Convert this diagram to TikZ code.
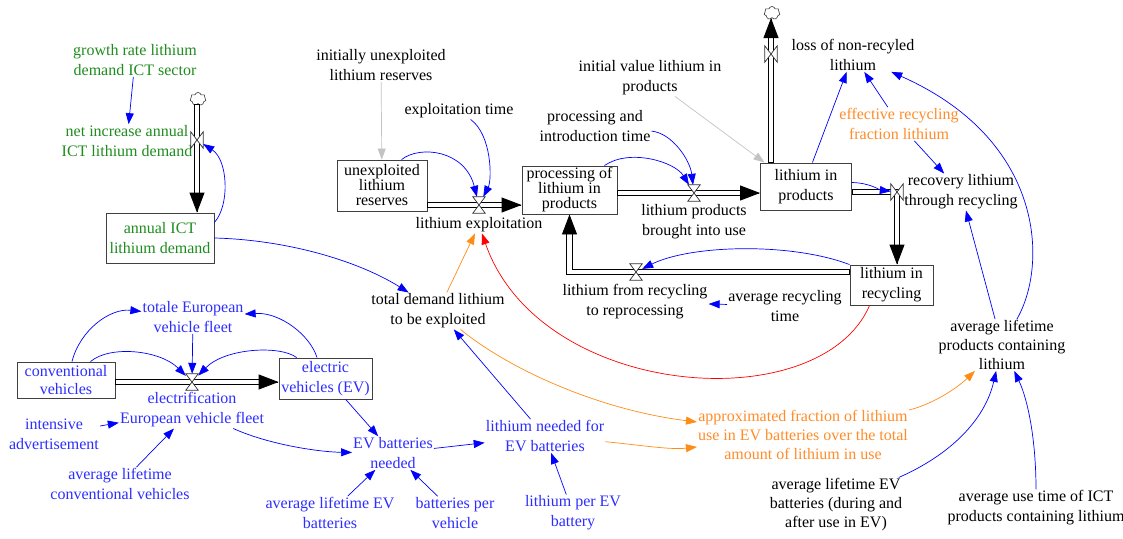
\documentclass[tikz,border=0pt]{standalone}
\usepackage{fontspec}
\setmainfont{Liberation Serif}
\usetikzlibrary{arrows.meta,shapes.symbols,calc}
\definecolor{lnkblue}{RGB}{0,0,255}
\definecolor{txtblue}{RGB}{45,45,255}
\definecolor{txtgreen}{RGB}{30,140,30}
\definecolor{lnkorange}{RGB}{255,140,20}
\definecolor{txtorange}{RGB}{255,140,40}
\definecolor{lnkgray}{RGB}{195,195,195}
\definecolor{lnkred}{RGB}{255,0,0}

\begin{document}
\begin{tikzpicture}[x=1pt,y=-1pt,
  lbl/.style={align=center, font=\fontsize{16}{20}\selectfont, inner sep=1pt},
  lblthree/.style={lbl, font=\fontsize{16}{19}\selectfont},
  stock/.style={draw=black!75, line width=0.9pt, align=center, inner sep=0pt, font=\fontsize{16}{20}\selectfont},
  stocktight/.style={stock, font=\fontsize{16}{15}\selectfont},
  valvebox/.style={minimum width=12pt, minimum height=16pt, inner sep=0pt},
  valveline/.style={draw=black!80, line width=0.7pt, fill=white},
  sink/.style={cloud, cloud puffs=7, draw=black!80, line width=0.6pt, minimum width=16pt, minimum height=13pt, inner sep=0pt, aspect=1.2},
  pipebody/.style={draw=black, line width=0.9pt, fill=white, line join=miter},
  pipehead/.style={draw=black, line width=0.9pt, -{Triangle[length=20pt,width=15pt]}},
  link/.style={draw=lnkblue, line width=0.7pt, -{Triangle[length=11pt,width=8pt]}},
  linkgray/.style={link, draw=lnkgray},
  linkorange/.style={link, draw=lnkorange},
  linkred/.style={link, draw=lnkred},
]
\useasboundingbox (0,0) rectangle (1123,538);

% ---------- stocks ----------
\node[stock, minimum width=108pt, minimum height=50pt, text=txtgreen] (ict) at (160,238) {annual ICT\\lithium demand};
\node[stocktight, minimum width=90pt, minimum height=51pt] (unexp) at (382,185.5) {unexploited\\lithium\\reserves};
\node[stocktight, minimum width=95pt, minimum height=48pt] (proc) at (569.5,190) {processing of\\lithium in\\products};
\node[stock, minimum width=91pt, minimum height=47pt] (lip) at (806,186.5) {lithium in\\products};
\node[stock, minimum width=83pt, minimum height=40pt] (lir) at (891.5,285) {lithium in\\recycling};
\node[stock, minimum width=98pt, minimum height=36pt, text=txtblue, font=\fontsize{16}{18}\selectfont] (conv) at (66,380) {conventional\\vehicles};
\node[stock, minimum width=93pt, minimum height=41pt, text=txtblue] (ev) at (325.5,378.5) {electric\\vehicles (EV)};

% ---------- auxiliaries ----------
\node[lbl, text=txtgreen] (growth) at (135,60) {growth rate lithium\\demand ICT sector};
\node[lbl, text=txtgreen] (netinc) at (127,141) {net increase annual\\ICT lithium demand};
\node[lbl] (initunexp) at (381,65) {initially unexploited\\lithium reserves};
\node[lbl] (exptime) at (459,111) {exploitation time};
\node[lbl] (lexp) at (479,225) {lithium exploitation};
\node[lbl] (procintro) at (595,126) {processing and\\introduction time};
\node[lbl] (initval) at (650,78) {initial value lithium in\\products};
\node[lbl] (lpbiu) at (694,222) {lithium products\\brought into use};
\node[lbl] (loss) at (853,55) {loss of non-recyled\\lithium};
\node[lbl, text=txtorange] (erf) at (899,124) {effective recycling\\fraction lithium};
\node[lbl] (rec) at (961,192) {recovery lithium\\through recycling};
\node[lbl] (lfr) at (635,302) {lithium from recycling\\to reprocessing};
\node[lbl] (art) at (785,306) {average recycling\\time};
\node[lbl] (totdem) at (438,311) {total demand lithium\\to be exploited};
\node[lbl, text=txtblue] (totEU) at (193,317) {totale European\\vehicle fleet};
\node[lbl, text=txtblue] (elec) at (192,410) {electrification\\European vehicle fleet};
\node[lbl, text=txtblue] (intadv) at (54,434) {intensive\\advertisement};
\node[lbl, text=txtblue] (alcv) at (120,484) {average lifetime\\conventional vehicles};
\node[lbl, text=txtblue] (evbn) at (393,453) {EV batteries\\needed};
\node[lbl, text=txtblue] (alevb) at (330,513) {average lifetime EV\\batteries};
\node[lbl, text=txtblue] (bpv) at (455,513) {batteries per\\vehicle};
\node[lbl, text=txtblue] (lnev) at (545,436) {lithium needed for\\EV batteries};
\node[lbl, text=txtblue] (lpev) at (573,513) {lithium per EV\\battery};
\node[lblthree, text=txtorange] (approx) at (803,435) {approximated fraction of lithium\\use in EV batteries over the total\\amount of lithium in use};
\node[lblthree] (alp) at (1002,345) {average lifetime\\products containing\\lithium};
\node[lblthree] (alevb2) at (836,505) {average lifetime EV\\batteries (during and\\after use in EV)};
\node[lbl] (aut) at (1036,508) {average use time of ICT\\products containing lithium};

% ---------- valves and clouds ----------
\node[valvebox] (v1) at (197,140) {};
\node[valvebox] (v2) at (479,205) {};
\node[valvebox] (v3) at (694,193) {};
\node[valvebox] (v4) at (771,54) {};
\node[valvebox] (v5) at (897,192) {};
\node[valvebox] (v6) at (636,272) {};
\node[valvebox] (v7) at (192,382) {};
\node[sink] (src1) at (198,99) {};
\node[sink] (snk4) at (772,13) {};

% ---------- flow ends ----------
\coordinate (f1e) at (v1 |- ict.north);
\coordinate (f2e) at (proc.west |- v2);
\coordinate (f3e) at (lip.west |- v3);
\coordinate (f4e) at (v4 |- snk4.south);
\coordinate (f5e) at (v5 |- lir.north);
\coordinate (f6e) at (proc.south);
\coordinate (f7e) at (ev.west |- v7);
\coordinate (f6k) at (proc.south |- v6);
\coordinate (f6l) at (lir.west |- v6);
\coordinate (f5p) at (lip.east |- v5);
% pipe bodies stop under the heads
\coordinate (f1s) at ($(f1e)!10pt!(v1)$);
\coordinate (f2s) at ($(f2e)!10pt!(v2)$);
\coordinate (f3s) at ($(f3e)!10pt!(v3)$);
\coordinate (f4s) at ($(f4e)!10pt!(v4)$);
\coordinate (f5s) at ($(f5e)!10pt!(v5)$);
\coordinate (f6s) at ($(f6e)!10pt!(f6k)$);
\coordinate (f7s) at ($(f7e)!10pt!(v7)$);

% ---------- pipes (hollow double lines) ----------
\draw[pipebody] ($(v1 |- src1.south)+(-2.6,0)$) rectangle ($(f1s)+(2.6,0)$);
\draw[pipebody] ($(unexp.east |- v2)+(0,-2.6)$) rectangle ($(f2s)+(0,2.6)$);
\draw[pipebody] ($(proc.east |- v3)+(0,-2.6)$) rectangle ($(f3s)+(0,2.6)$);
\draw[pipebody] ($(lip.north -| v4)+(-2.6,0)$) rectangle ($(f4s)+(2.6,0)$);
\draw[pipebody] ($(f5p)+(0,-2.6)$) -- ($(v5.center)+(2.6,-2.6)$) -- ($(f5s)+(2.6,0)$)
   -- ($(f5s)+(-2.6,0)$) -- ($(v5.center)+(-2.6,2.6)$) -- ($(f5p)+(0,2.6)$) -- cycle;
\draw[pipebody] ($(f6l)+(0,-2.6)$) -- ($(f6k)+(2.6,-2.6)$) -- ($(f6s)+(2.6,0)$)
   -- ($(f6s)+(-2.6,0)$) -- ($(f6k)+(-2.6,2.6)$) -- ($(f6l)+(0,2.6)$) -- cycle;
\draw[pipebody] ($(conv.east |- v7)+(0,-2.6)$) rectangle ($(f7s)+(0,2.6)$);

% ---------- pipe heads ----------
\draw[pipehead] ($(f1e)!1pt!(v1)$) -- (f1e);
\draw[pipehead] ($(f2e)!1pt!(v2)$) -- (f2e);
\draw[pipehead] ($(f3e)!1pt!(v3)$) -- (f3e);
\draw[pipehead] ($(f4e)!1pt!(v4)$) -- (f4e);
\draw[pipehead] ($(f5e)!1pt!(v5)$) -- (f5e);
\draw[pipehead] ($(f6e)!1pt!(f6k)$) -- (f6e);
\draw[pipehead] ($(f7e)!1pt!(v7)$) -- (f7e);

% valves on vertical flows
\foreach \v in {v1,v4,v5}
  \draw[valveline] (\v.north west) -- (\v.south west) -- (\v.north east) -- (\v.south east) -- cycle;
% valves on horizontal flows
\foreach \v in {v2,v3,v6,v7}
  \draw[valveline] (\v.north west) -- (\v.north east) -- (\v.south west) -- (\v.south east) -- cycle;

% ---------- connectors ----------
\draw[link] (growth) -- (netinc);
\draw[link] (ict.16) .. controls (230,205) and (228,160) .. (v1);
\draw[link] (ict.east) .. controls (290,240) and (360,262) .. (totdem);
\draw[linkgray] (initunexp) -- (unexp);
\draw[link] (exptime) .. controls (492,135) and (492,180) .. (v2);
\draw[link] (unexp.53) .. controls (420,145) and (465,150) .. (v2);
\draw[link] (proc.35) .. controls (630,148) and (675,162) .. (v3);
\draw[link] (procintro) .. controls (672,133) and (690,160) .. (v3);
\draw[linkgray] (initval) -- (lip.150);
\draw[link] (lip.75) -- (loss);
\draw[link] (erf) -- (loss);
\draw[link] (erf) -- (rec);
\draw[link] (lip.5) .. controls (870,183) and (880,190) .. (v5);
\draw[link] (alp) -- (rec);
\draw[link] (alp) .. controls (1048,265) and (1045,140) .. (loss);
\draw[link] (lir.north west) .. controls (790,242) and (690,245) .. (v6);
\draw[link] (art) -- (lfr);
\draw[linkred] (lir.-137) .. controls (820,420) and (540,400) .. (lexp);
\draw[linkorange] (totdem) -- (lexp);
\draw[linkorange] (totdem) .. controls (510,370) and (600,410) .. (approx);
\draw[linkorange] (lnev) .. controls (640,445) and (670,450) .. (approx);
\draw[linkorange] (approx) .. controls (930,405) and (955,390) .. (alp);
\draw[link] (alevb2) .. controls (950,455) and (985,420) .. (alp);
\draw[link] (aut) .. controls (1036,440) and (1028,400) .. (alp);
\draw[link] (lnev) -- (totdem);
\draw[link] (lpev) -- (lnev);
\draw[link] (evbn) -- (lnev);
\draw[link] (ev.-46) -- (evbn);
\draw[link] (elec) .. controls (270,445) and (320,452) .. (evbn);
\draw[link] (alevb) -- (evbn);
\draw[link] (bpv) -- (evbn);
\draw[link] (intadv) -- (elec);
\draw[link] (alcv) -- (elec);
\draw[link] (totEU) -- (v7);
\draw[link] (conv.72) .. controls (80,330) and (110,308) .. (totEU);
\draw[link] (ev.112) .. controls (310,335) and (280,312) .. (totEU);
\draw[link] (conv.37) .. controls (110,345) and (160,350) .. (v7);
\draw[link] (ev.144) .. controls (280,345) and (225,348) .. (v7);
\end{tikzpicture}
\end{document}
